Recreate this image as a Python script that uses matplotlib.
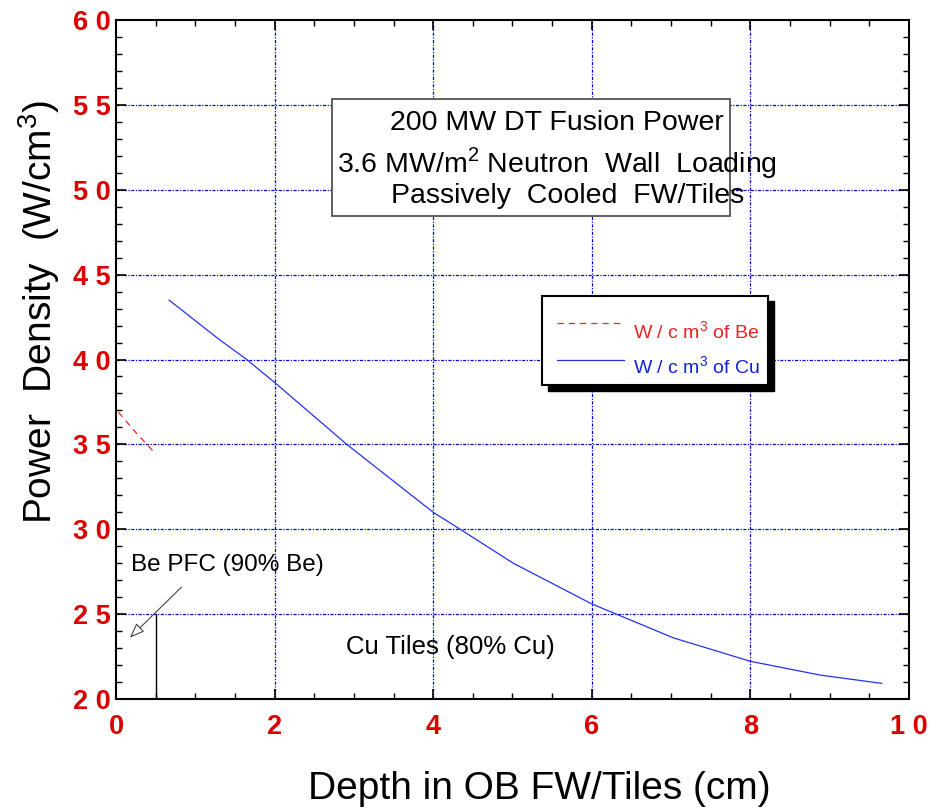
import matplotlib
matplotlib.use("Agg")
import matplotlib.pyplot as plt
import numpy as np
from matplotlib.patches import Rectangle

plt.rcParams['font.family'] = ['Liberation Sans', 'DejaVu Sans']
plt.rcParams['mathtext.fontset'] = 'custom'
plt.rcParams['mathtext.rm'] = 'Liberation Sans'

# Data
cu_x = [0.67, 1.31, 1.635, 2.0, 2.91, 4.0, 4.34, 5.01, 6.0, 6.31, 7.03, 8.0, 8.88, 9.655]
cu_y = [43.5, 41.15, 40.05, 38.65, 35.0, 31.0, 30.0, 28.0, 25.6, 25.0, 23.6, 22.22, 21.41, 20.92]
be_x = [0.03, 0.25, 0.47]
be_y = [36.9, 35.7, 34.6]
xticks = [0, 2, 4, 6, 8, 10]
xticklabels = ["0", "2", "4", "6", "8", "1 0"]
yticks = [20, 25, 30, 35, 40, 45, 50, 55, 60]
yticklabels = ["2 0", "2 5", "3 0", "3 5", "4 0", "4 5", "5 0", "5 5", "6 0"]

fig = plt.figure(figsize=(9.37, 8.11), dpi=100)
ax = fig.add_axes([0.1238, 0.1381, 0.8463, 0.8372])
ax.set_xlim(0, 10)
ax.set_ylim(20, 60)

grid_ls = (0, (2.5, 1.2, 1, 1.2))
for xv in xticks[1:-1]:
    ax.axvline(xv, color='#0000dd', lw=0.9, ls=grid_ls, zorder=1)
for yv in yticks[1:-1]:
    ax.axhline(yv, color='#0000dd', lw=0.9, ls=grid_ls, zorder=1)

ax.plot(cu_x, cu_y, color='#2233ee', lw=0.9, zorder=3, solid_joinstyle='round')
ax.plot(be_x, be_y, color='#ee2222', lw=0.9, ls=(0, (5, 4)), zorder=3)

# vertical boundary line
ax.plot([0.5, 0.5], [20, 25], color='black', lw=1.0, zorder=3)

ax.set_xticks(xticks)
ax.set_xticklabels(xticklabels)
ax.set_yticks(yticks)
ax.set_yticklabels(yticklabels)
ax.set_xticks(np.arange(0, 10.01, 0.5), minor=True)
ax.set_yticks(np.arange(20, 60.01, 1), minor=True)
ax.tick_params(which='both', direction='in', top=True, right=True, color='black')
ax.tick_params(which='major', length=7, width=1.2)
ax.tick_params(axis='x', which='major', pad=11)
ax.tick_params(axis='y', which='major', pad=4)
ax.tick_params(which='minor', length=4, width=1.0)
for lab in ax.get_xticklabels() + ax.get_yticklabels():
    lab.set_color('#dd0000')
    lab.set_fontweight('bold')
    lab.set_fontsize(19.5)
for sp in ax.spines.values():
    sp.set_linewidth(1.5)

# Title box
ax.add_patch(Rectangle((2.72, 48.45), 5.02, 6.9, facecolor='white', edgecolor='#444444',
                       lw=1.2, zorder=4))
ax.text(5.56, 53.95, "200 MW DT Fusion Power", fontsize=20.5, ha='center', va='center', zorder=5)
ax.text(5.56, 51.55, "3.6 MW/m$^2$ Neutron  Wall  Loading", fontsize=20.5, ha='center', va='center', zorder=5)
ax.text(5.69, 49.65, "Passively  Cooled  FW/Tiles", fontsize=20.5, ha='center', va='center', zorder=5)

# Legend box with shadow
ax.add_patch(Rectangle((5.37 + 0.08, 38.5 - 0.33), 2.85, 5.25, facecolor='black',
                       edgecolor='black', lw=1, zorder=4))
ax.add_patch(Rectangle((5.37, 38.5), 2.85, 5.25, facecolor='white',
                       edgecolor='black', lw=1.5, zorder=5))
ax.plot([5.56, 6.4], [42.15, 42.15], color='#ee2222', lw=0.9, ls=(0, (5, 4)), zorder=6)
ax.plot([5.56, 6.4], [40.0, 40.0], color='#2233ee', lw=0.9, zorder=6)
ax.text(6.52, 41.65, "W / c m$^3$ of Be", fontsize=14, color='#ee2222', ha='left', va='center', zorder=6)
ax.text(6.52, 39.55, "W / c m$^3$ of Cu", fontsize=14, color='#1122dd', ha='left', va='center', zorder=6)

# Annotations
ax.text(0.19, 27.9, "Be PFC (90% Be)", fontsize=17.5, ha='left', va='center', zorder=5)
ax.annotate("", xy=(0.15, 23.5), xytext=(0.85, 26.7),
            arrowprops=dict(arrowstyle='-|>,head_length=0.9,head_width=0.35', color='#444444',
                            fc='white', lw=0.8), zorder=5)
ax.text(4.22, 23.05, "Cu Tiles (80% Cu)", fontsize=18.5, ha='center', va='center', zorder=5)

fig.text(0.576, 0.027, "Depth in OB FW/Tiles (cm)", fontsize=28, ha='center', va='center')
fig.text(0.042, 0.615, "Power  Density  (W/cm$^3$)", fontsize=28, ha='center', va='center',
         rotation=90)

fig.savefig("out.png", dpi=100)
